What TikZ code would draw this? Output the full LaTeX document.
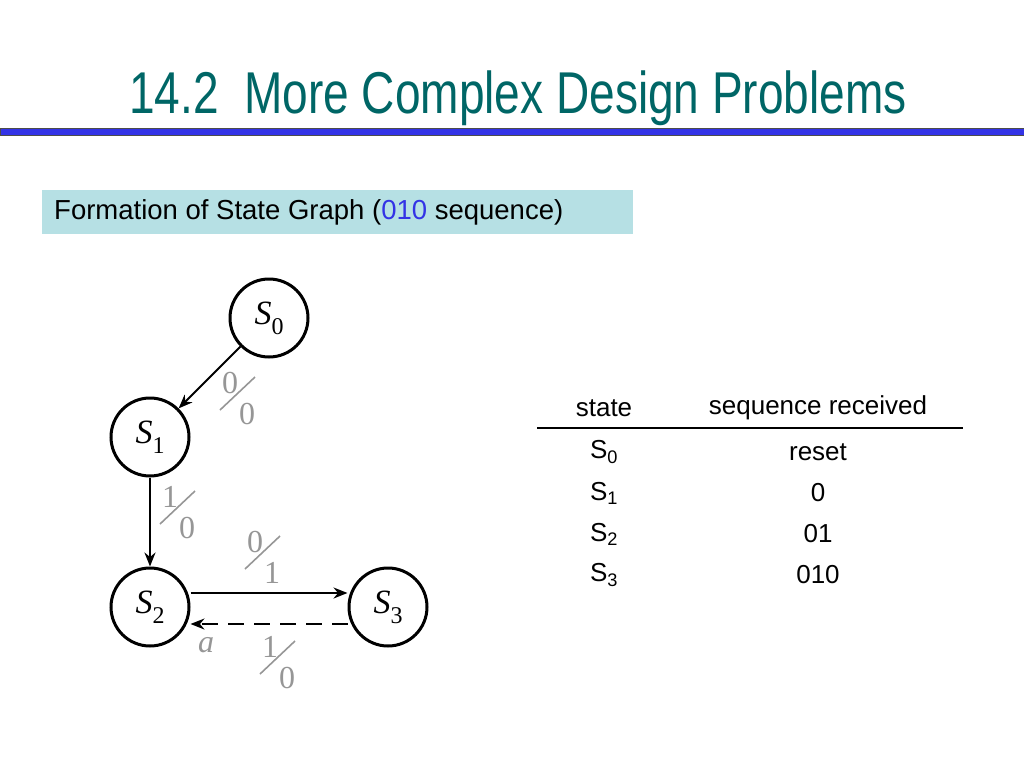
\documentclass[tikz,border=0pt]{standalone}
\usepackage{fontspec}
\setmainfont{Liberation Sans}
\newfontfamily\serifit{Liberation Serif}
\newfontfamily\titlefont[FakeStretch=0.78]{Liberation Sans}
\usetikzlibrary{arrows.meta,calc}
\definecolor{teal1}{RGB}{0,102,102}
\definecolor{barblue}{RGB}{51,51,230}
\definecolor{boxc}{RGB}{182,224,228}
\definecolor{lbl}{RGB}{150,150,150}
\newcommand\myfrac[4]{%
  \node[lbl] (#1n) at ($(#2)+(-8,-15)$) {#3};
  \node[lbl] (#1d) at ($(#2)+(9,16)$) {#4};
  \draw[lbl,line width=1.6pt] ($(#2)+(-18,12)$) -- ($(#2)+(17,-21)$);}
\newcommand\sname[1]{\textit{S}\raisebox{-0.3em}{\fontsize{24}{26}\selectfont #1}}
\begin{document}
\begin{tikzpicture}[x=1pt,y=-1pt,
  st/.style={circle,draw,line width=3pt,minimum size=78pt,inner sep=0pt,font=\serifit\fontsize{34}{36}\selectfont},
  lbl/.style={text=lbl,color=lbl,font=\serifit\fontsize{32}{34}\selectfont,inner sep=0pt},
  arr/.style={line width=2pt,-{Stealth[length=14pt,width=11pt]}},
  tb/.style={font=\fontsize{26}{28}\selectfont,inner sep=0pt}]
\useasboundingbox (0,0) rectangle (1024,768);
\node[text=teal1,font=\titlefont\fontsize{59}{64}\selectfont] (title) at (518,98) {14.2\ \ More Complex Design Problems};
\fill[barblue,draw=black!70,line width=0.8pt] (0,128) rectangle (1024,135);
\fill[boxc] (42,190) rectangle (633,234);
\node[anchor=west,font=\fontsize{27.5}{29}\selectfont,inner sep=0pt] (sub) at (54,212) {Formation of State Graph (\textcolor{barblue}{010} sequence)};
\node[st] (s0) at (269,318) {\sname{0}};
\node[st] (s1) at (150,437) {\sname{1}};
\node[st] (s2) at (150,607) {\sname{2}};
\node[st] (s3) at (388,607) {\sname{3}};
\draw[arr] (s0) -- (s1);
\draw[arr] (s1) -- (s2);
\draw[arr] (s2.east |- 0,593) coordinate (a1) -- (s3.west |- 0,593) coordinate (a2);
\draw[arr,dash pattern=on 16pt off 10pt] ($(s3.west)+(0,17)$) coordinate (b1) -- ($(s2.east)+(0,17)$) coordinate (b2);
\coordinate (f1) at (238,398); \myfrac{fa}{f1}{0}{0}
\coordinate (f2) at (178,512); \myfrac{fb}{f2}{1}{0}
\coordinate (f3) at (263,557); \myfrac{fc}{f3}{0}{1}
\coordinate (f4) at (278,662); \myfrac{fd}{f4}{1}{0}
\node[lbl,font=\serifit\fontsize{32}{34}\selectfont\itshape] (alab) at (206,645) {a};
\node[tb] (h1) at (604,408) {state};
\node[tb] (h2) at (818,408) {sequence received};
\draw[line width=1.4pt] (537,428) -- (963,428);
\foreach \i/\y/\v in {0/452/reset,1/493/0,2/534/01,3/575/010}{
  \node[tb] (r\i a) at (604,\y) {S\textsubscript{\i}};
  \node[tb] (r\i b) at (818,\y) {\v};
}
\end{tikzpicture}
\end{document}
